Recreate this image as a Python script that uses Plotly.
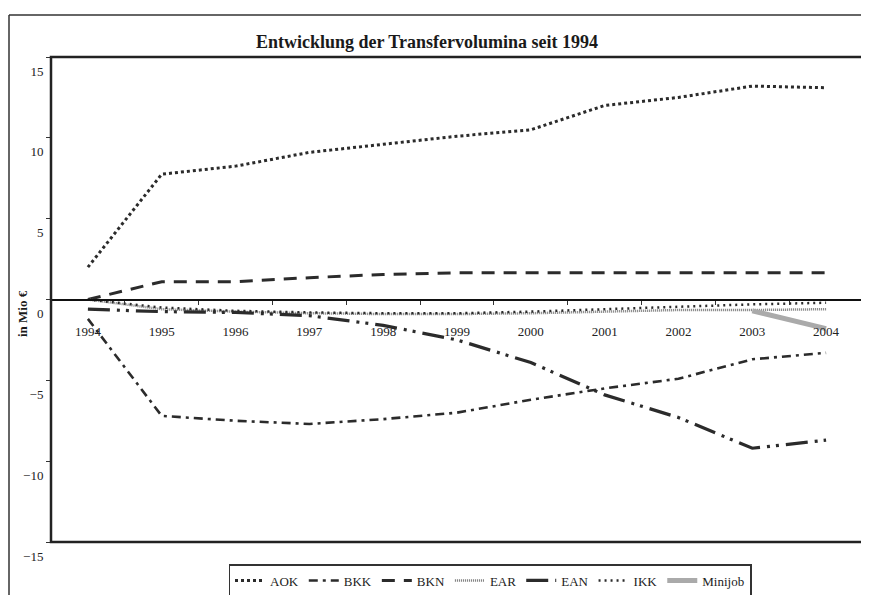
import plotly.graph_objects as go

years = ["1994", "1995", "1996", "1997", "1998", "1999", "2000", "2001", "2002", "2003", "2004"]

aok = [2.0, 7.75, 8.25, 9.1, 9.6, 10.1, 10.5, 12.0, 12.5, 13.2, 13.1]
bkk = [-1.2, -7.2, -7.5, -7.7, -7.4, -7.0, -6.2, -5.5, -4.9, -3.7, -3.3]
bkn = [0.0, 1.1, 1.1, 1.35, 1.55, 1.65, 1.65, 1.65, 1.65, 1.65, 1.65]
ear = [0.0, -0.6, -0.75, -0.85, -0.9, -0.9, -0.85, -0.75, -0.65, -0.65, -0.6]
ean = [-0.6, -0.75, -0.8, -1.0, -1.6, -2.5, -3.9, -5.9, -7.3, -9.2, -8.7]
ikk = [0.0, -0.5, -0.7, -0.8, -0.85, -0.85, -0.75, -0.6, -0.45, -0.3, -0.2]
minijob_years = ["2003", "2004"]
minijob = [-0.7, -1.8]

y_ticks = [-15, -10, -5, 0, 5, 10, 15]

FONT = "Liberation Serif, Times New Roman, serif"
DARK = "#222222"

fig = go.Figure()

def add(name, x, y, color, width, dash):
    fig.add_trace(go.Scatter(
        x=x, y=y, name=name, mode="lines",
        line=dict(color=color, width=width, dash=dash),
        hoverinfo="skip",
    ))

add("AOK", years, aok, "#2b2b2b", 3, "3px,3px")
add("BKK", years, bkk, "#2b2b2b", 2.6, "9px,5px,3px,5px")
add("BKN", years, bkn, "#2b2b2b", 3, "13px,9px")
add("EAR", years, ear, "#777777", 2.5, "1px,1px")
add("EAN", years, ean, "#2b2b2b", 3.2, "22px,7px,3px,6px,3px,7px")
add("IKK", years, ikk, "#2b2b2b", 2.5, "2px,4px")
add("Minijob", minijob_years, minijob, "#aaaaaa", 5, "solid")

# the page body has an 8px margin: figure is drawn 8px right/down of the window corner
OFF = 8
W, H = 869 - OFF, 595 - OFF
L, R, T, B = 51 - OFF, 863 - OFF, 57 - OFF, 542 - OFF
pw, ph = R - L, B - T

def px_x(x):
    return (x - OFF - L) / pw

def px_y(y):
    return (B - (y - OFF)) / ph

fig.update_layout(
    template="none",
    width=W, height=H,
    margin=dict(l=L, r=W - R, t=T, b=H - B, pad=0, autoexpand=False),
    paper_bgcolor="white", plot_bgcolor="white",
    font=dict(family=FONT, size=13, color=DARK),
    title=dict(
        text="<b>Entwicklung der Transfervolumina seit 1994</b>",
        x=(427 - OFF) / W, xanchor="center", y=1 - (42 - OFF) / H, yanchor="middle",
        font=dict(family=FONT, size=18, color="#1a1a1a"),
    ),
    showlegend=True,
    legend=dict(
        orientation="h", x=px_x(490), xanchor="center",
        y=px_y(564), yanchor="top",
        bordercolor="#333333", borderwidth=1.5, bgcolor="white",
        font=dict(family=FONT, size=13, color=DARK),
        itemwidth=30, tracegroupgap=0,
    ),
    xaxis=dict(
        type="category", range=[-0.5, 10.5],
        anchor="free", position=0.5, automargin=False,
        showline=True, linecolor="#111111", linewidth=2,
        ticks="outside", ticklen=4, tickcolor="#333333", tickson="boundaries",
        ticklabelstandoff=20,
        showgrid=False, zeroline=False,
        tickfont=dict(family=FONT, size=13, color=DARK),
    ),
    yaxis=dict(
        range=[-15, 15], tickvals=y_ticks, automargin=False,
        showgrid=False, zeroline=False, showline=False,
        ticks="outside", ticklen=4, tickcolor="#333333",
        ticklabelshift=14,
        tickfont=dict(family=FONT, size=13, color=DARK),
    ),
    shapes=[
        dict(type="rect", xref="paper", yref="paper", x0=0, x1=1, y0=0, y1=1,
             line=dict(color="#222222", width=2.5), layer="above"),
        dict(type="line", xref="paper", yref="paper",
             x0=px_x(9), x1=px_x(9), y0=px_y(600), y1=px_y(15),
             line=dict(color="#333333", width=1.5)),
        dict(type="line", xref="paper", yref="paper",
             x0=px_x(9), x1=px_x(880), y0=px_y(15), y1=px_y(15),
             line=dict(color="#333333", width=1.5)),
    ],
    annotations=[
        dict(text="<b>in Mio €</b>", xref="paper", yref="paper",
             x=px_x(22), y=px_y(314), textangle=-90, showarrow=False,
             xanchor="center", yanchor="middle",
             font=dict(family=FONT, size=13, color="#1a1a1a")),
    ],
)

fig.write_html("out.html")
